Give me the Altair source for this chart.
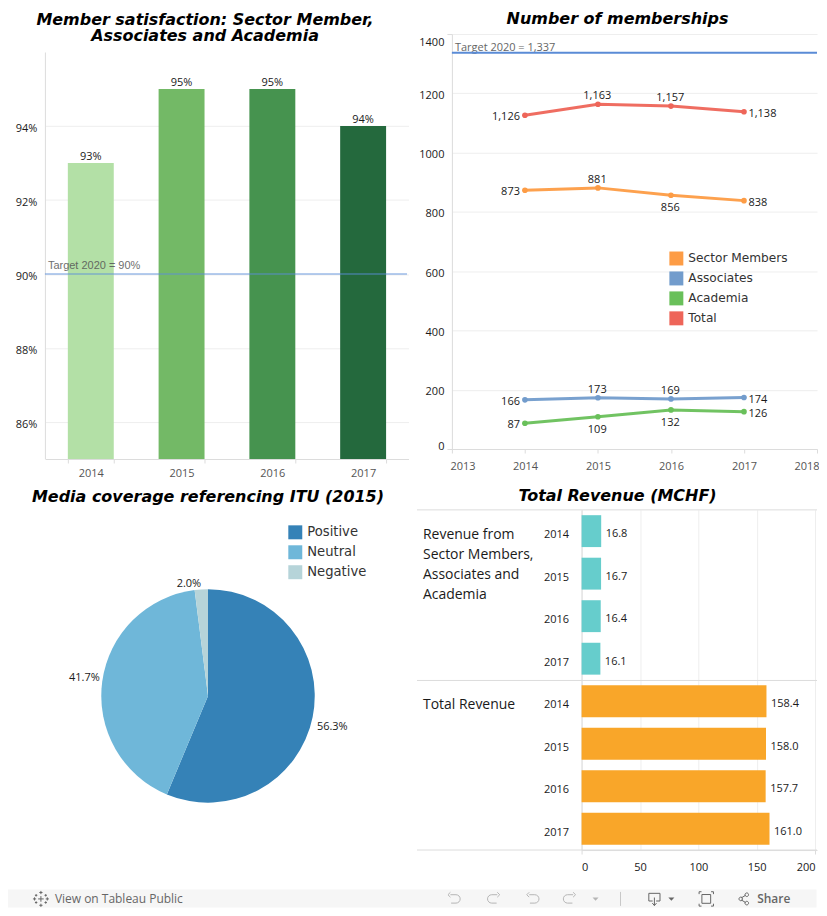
import altair as alt
import pandas as pd

YEARS = [2014, 2015, 2016, 2017]
SAT = [93, 95, 95, 94]
SAT_COLORS = ["#b3e0a6", "#73b966", "#46934f", "#24693d"]
SAT_TARGET = [90]

SECTOR = [873, 881, 856, 838]
ASSOC = [166, 173, 169, 174]
ACAD = [87, 109, 132, 126]
TOTAL = [1126, 1163, 1157, 1138]
MEMBER_NAMES = ["Sector Members", "Associates", "Academia", "Total"]
MEMBER_COLORS = ["#fd9c45", "#729ccc", "#69c05a", "#ee6559"]
MEM_TARGET = [1337]

PIE_NAMES = ["Positive", "Neutral", "Negative"]
PIE_VALUES = [56.3, 41.7, 2.0]
PIE_COLORS = ["#3582b7", "#6fb7d9", "#b6d4d9"]

REV_MEMBERS = [16.8, 16.7, 16.4, 16.1]
REV_TOTAL = [158.4, 158.0, 157.7, 161.0]

F = "Open Sans"
GRID = "#eeeeee"
DOM = "#dcdcdc"
TICKC = "#555555"
INK = "#1a1a1a"


def ttl(text, dx, offset, dy=0):
    return alt.TitleParams(text=text, font="DejaVu Sans", fontSize=16, fontWeight="bold",
                           fontStyle="italic", color="black", lineHeight=16, anchor="middle",
                           dx=dx, dy=dy, offset=offset)


# ---------- A: satisfaction
dfa = pd.DataFrame({"y": [str(v) for v in YEARS], "v": SAT})
dfa["lab"] = dfa.v.astype(str) + "%"
xa = alt.X("y:N", title=None, scale=alt.Scale(range=[0.5, 364.5], paddingInner=0.494, paddingOuter=0.247),
           axis=alt.Axis(labelAngle=0, tickBand="extent", domainColor=DOM, tickColor=DOM, tickSize=4,
                         labelFont=F, labelFontSize=11, labelColor=TICKC, labelPadding=5, grid=False))
ya = alt.Y("v:Q", title=None, scale=alt.Scale(domain=[85, 96], range=[426, 18], nice=False, zero=False, clamp=True),
           axis=alt.Axis(values=[86, 88, 90, 92, 94], labelExpr="datum.value + '%'", ticks=False,
                         domainColor=DOM, gridColor=GRID, labelFont=F, labelFontSize=11, labelColor=INK,
                         labelPadding=8, labelOffset=3))
a_bars = alt.Chart(dfa).mark_bar().encode(
    x=xa, y=ya,
    color=alt.Color("y:N", scale=alt.Scale(domain=[str(v) for v in YEARS], range=SAT_COLORS), legend=None))
a_text = alt.Chart(dfa).mark_text(font=F, fontSize=11, color=INK, dy=-6).encode(x="y:N", y="v:Q", text="lab:N")
dft = pd.DataFrame({"v": SAT_TARGET, "t": ["Target 2020 = 90%"]})
a_rule = alt.Chart(dft).mark_rule(color="#5b8fd9", opacity=0.45, strokeWidth=2).encode(y="v:Q")
a_tt = alt.Chart(dft).mark_text(font="Liberation Sans", fontSize=11, color="#555555", opacity=0.85, align="left",
                                dy=-8).encode(x=alt.value(3), y="v:Q", text="t:N")
A = alt.layer(a_bars, a_rule, a_text, a_tt).properties(
    width=363, height=426,
    title=ttl(["Member satisfaction: Sector Member,", "Associates and Academia"], -21, 0, 10))

# ---------- B: memberships
rows = []
for name, vals in zip(MEMBER_NAMES, [SECTOR, ASSOC, ACAD, TOTAL]):
    for y, v in zip(YEARS, vals):
        rows.append({"year": y, "v": v, "name": name})
dfb = pd.DataFrame(rows)
xb = alt.X("year:Q", title=None, scale=alt.Scale(domain=[2013, 2018], nice=False, zero=False),
           axis=alt.Axis(values=[2013, 2014, 2015, 2016, 2017, 2018], format="d", grid=False, domainColor=DOM,
                         tickColor=DOM, tickSize=4, labelFont=F, labelFontSize=11, labelColor=TICKC,
                         labelFlush=1, labelFlushOffset=2, labelPadding=8))
yb = alt.Y("v:Q", title=None, scale=alt.Scale(domain=[0, 1400], nice=False),
           axis=alt.Axis(values=[0, 200, 400, 600, 800, 1000, 1200, 1400], format="d", domainColor=DOM, gridColor=GRID,
                         tickColor=DOM, tickSize=5,
                         tickOpacity={"condition": {"test": "datum.value==0||datum.value==1400", "value": 1}, "value": 0},
                         labelFont=F, labelFontSize=11, labelColor=INK, labelFlush=1, labelOffset=2,
                         labelPadding=3))
colscale = alt.Scale(domain=MEMBER_NAMES, range=MEMBER_COLORS)
colb = alt.Color("name:N", scale=colscale,
                 legend=alt.Legend(title=None, orient="none", legendX=218, legendY=218, symbolType="square",
                                   symbolSize=196, symbolOpacity=1, symbolStrokeWidth=0, labelFont="DejaVu Sans", labelFontSize=12.2,
                                   labelColor="#333333", rowPadding=6, labelOffset=5, padding=0))
b_line = alt.Chart(dfb).mark_line(strokeWidth=3, opacity=0.95).encode(
    x=xb, y=yb, color=alt.Color("name:N", scale=colscale, legend=None), detail="name:N")
b_pts = alt.Chart(dfb).mark_square(size=1, opacity=1).encode(x="year:Q", y="v:Q", color=colb)
b_circ = alt.Chart(dfb).mark_circle(size=32, opacity=1).encode(
    x="year:Q", y="v:Q", color=alt.Color("name:N", scale=colscale, legend=None))

BELOW = [("Sector Members", 2016), ("Academia", 2015), ("Academia", 2016)]
is_below = [(n, y) in BELOW for n, y in zip(dfb.name, dfb.year)]
d_left = dfb[dfb.year == 2014]
d_right = dfb[dfb.year == 2017]
d_mid = dfb[dfb.year.isin([2015, 2016])]
mid_below = pd.Series(is_below, index=dfb.index)[d_mid.index]


def lbl(d, **kw):
    return alt.Chart(d).mark_text(font=F, fontSize=11, color=INK, **kw).encode(
        x="year:Q", y="v:Q", text=alt.Text("v:Q", format=","))


b_l = lbl(d_left, align="right", dx=-5, dy=2)
b_r = lbl(d_right, align="left", dx=4.5, dy=2.5)
b_a = lbl(d_mid[~mid_below], dx=-0.7, dy=-8)
b_b = lbl(d_mid[mid_below], dx=-0.7, dy=13)
dfbt = pd.DataFrame({"v": MEM_TARGET, "t": ["Target 2020 = 1,337"]})
b_rule = alt.Chart(dfbt).mark_rule(color="#5a8bd6", strokeWidth=2).encode(y="v:Q")
b_tt = alt.Chart(dfbt).mark_text(font=F, fontSize=11, color="#666666", align="left", dy=-5).encode(
    x=alt.value(3), y="v:Q", text="t:N")
B = alt.layer(b_tt, b_rule, b_line, b_pts, b_circ, b_l, b_r, b_a, b_b).resolve_legend(color="independent").properties(
    width=366, height=416, title=ttl("Number of memberships", -17, 7))

# ---------- C: pie (view origin at the left column's origin; also carries the page footer strip)
dfc = pd.DataFrame({"name": PIE_NAMES, "v": PIE_VALUES, "i": [0, 1, 2]})
dfc["mid"] = dfc.v.cumsum() - dfc.v / 2
dfc["lab"] = dfc.v.map(lambda v: f"{v:.1f}%")
thscale = alt.Scale(domain=[0, 100])
c_arc = alt.Chart(dfc).mark_arc(outerRadius=107).encode(
    theta=alt.Theta("v:Q", scale=thscale, stack=True),
    order=alt.Order("i:O"),
    color=alt.Color("name:N", scale=alt.Scale(domain=PIE_NAMES, range=PIE_COLORS),
                    legend=alt.Legend(title=None, orient="none", legendX=244, legendY=15.5, symbolType="square",
                                      symbolSize=196, symbolOpacity=1, symbolStrokeWidth=0, labelFont="DejaVu Sans", labelFontSize=13.2,
                                      labelColor="#333333", rowPadding=6, labelOffset=5, padding=0)))
c_labels = []
for idx, rad, ldx, ldy in [(0, 125, 2, 7), (1, 125, 0, -1), (2, 114, -12, 2)]:
    c_labels.append(alt.Chart(dfc[dfc.i == idx]).mark_text(radius=rad, font=F, fontSize=11, color=INK, dx=ldx, dy=ldy).encode(
        theta=alt.Theta("mid:Q", scale=thscale, stack=None), text="lab:N"))

# footer strip
GRAY = "#b5b5b5"
DARK = "#666666"
rule_df = pd.DataFrame({"r": [0]})
UNDO = "M-0.5,-0.6 L0.3,-0.6 A0.6,0.6 0 0 1 0.3,0.6 L-0.4,0.6 M-0.5,-0.95 L-0.85,-0.6 L-0.5,-0.25"
REDO = "M0.5,-0.6 L-0.3,-0.6 A0.6,0.6 0 0 0 -0.3,0.6 L0.4,0.6 M0.5,-0.95 L0.85,-0.6 L0.5,-0.25"
TRI = "M-1,-0.5 L1,-0.5 L0,0.6 Z"
BOX = "M-0.8,-0.8 L0.8,-0.8 L0.8,0.3 L0.25,0.3 M-0.25,0.3 L-0.8,0.3 L-0.8,-0.8 M0,-0.2 L0,0.95 M-0.3,0.6 L0,0.95 L0.3,0.6"
FULL = "M-0.9,-0.6 L-0.9,-0.9 L-0.6,-0.9 M0.6,-0.9 L0.9,-0.9 L0.9,-0.6 M0.9,0.6 L0.9,0.9 L0.6,0.9 M-0.6,0.9 L-0.9,0.9 L-0.9,0.6 M-0.55,-0.55 L0.55,-0.55 L0.55,0.55 L-0.55,0.55 Z"
SHARE = "M-0.35,-0.15 L0.4,-0.6 M-0.35,0.15 L0.4,0.6 M-0.4,0 m-0.3,0 a0.3,0.3 0 1 0 0.6,0 a0.3,0.3 0 1 0 -0.6,0 M0.6,-0.7 m-0.3,0 a0.3,0.3 0 1 0 0.6,0 a0.3,0.3 0 1 0 -0.6,0 M0.6,0.7 m-0.3,0 a0.3,0.3 0 1 0 0.6,0 a0.3,0.3 0 1 0 -0.6,0"
LOGO = "M0,-1 L0,-0.6 M-0.2,-0.8 L0.2,-0.8 M0,1 L0,0.6 M-0.2,0.8 L0.2,0.8 M-1,0 L-0.6,0 M-0.8,-0.2 L-0.8,0.2 M1,0 L0.6,0 M0.8,-0.2 L0.8,0.2 M0,-0.35 L0,0.35 M-0.35,0 L0.35,0 M-0.6,-0.6 L-0.6,-0.3 M-0.75,-0.45 L-0.45,-0.45 M0.6,-0.6 L0.6,-0.3 M0.75,-0.45 L0.45,-0.45 M-0.6,0.6 L-0.6,0.3 M-0.75,0.45 L-0.45,0.45 M0.6,0.6 L0.6,0.3 M0.75,0.45 L0.45,0.45"
icons = [(LOGO, 41, DARK, 256, False), (UNDO, 455, GRAY, 196, False), (REDO, 495, GRAY, 196, False), (UNDO, 534, GRAY, 196, False),
         (REDO, 571, GRAY, 196, False), (TRI, 597, GRAY, 36, True), (BOX, 656, DARK, 196, False), (TRI, 673, DARK, 36, True),
         (FULL, 708, DARK, 256, False), (SHARE, 745, DARK, 144, False)]
X0, Y0 = 45, 509          # origin of this view on the page
YC = 899
one = pd.DataFrame({"t": ["View on Tableau Public", "Share"]})
s_layers = [alt.Chart(rule_df).mark_rect(color="#f6f6f6").encode(
    x=alt.value(8 - X0), x2=alt.value(818.5 - X0), y=alt.value(889.5 - Y0), y2=alt.value(907.5 - Y0))]
for path, px, col, sz, fill in icons:
    s_layers.append(alt.Chart(rule_df).mark_point(shape=path, size=sz, filled=fill, color=col, strokeWidth=1, opacity=1).encode(
        x=alt.value(px - X0), y=alt.value(YC - Y0)))
s_layers.append(alt.Chart(rule_df).mark_rule(color="#c8c8c8").encode(
    x=alt.value(622 - X0), y=alt.value(892 - Y0), y2=alt.value(906 - Y0)))
s_layers.append(alt.Chart(one[one.t != "Share"]).mark_text(font=F, fontSize=12, color=DARK, align="left").encode(
    x=alt.value(55 - X0), y=alt.value(YC - Y0), text="t:N"))
s_layers.append(alt.Chart(one[one.t == "Share"]).mark_text(font=F, fontSize=12, color=DARK, align="left", fontWeight=600).encode(
    x=alt.value(759 - X0), y=alt.value(YC - Y0), text="t:N"))

C = alt.layer(c_arc, *c_labels, *s_layers).properties(
    width=327, height=373, title=ttl("Media coverage referencing ITU (2015)", 0, 5))

# ---------- D: revenue
dfd = pd.DataFrame({"key": [f"A{y}" for y in YEARS] + [f"B{y}" for y in YEARS],
                    "v": REV_MEMBERS + REV_TOTAL,
                    "g": ["m"] * 4 + ["t"] * 4})
dfd["lab"] = dfd.v.map(lambda v: f"{v:.1f}")
keys = list(dfd.key)
D_LEFT = 130
yd = alt.Y("key:N", title=None, sort=keys,
           scale=alt.Scale(domain=keys, paddingInner=0.25, paddingOuter=0.125),
           axis=alt.Axis(labelExpr="slice(datum.value, 1)", ticks=False, domainColor=DOM, grid=False, offset=-D_LEFT,
                         labelFont=F, labelFontSize=11, labelColor=INK, labelPadding=13, labelOffset=4))
xd = alt.X("v:Q", title=None, scale=alt.Scale(domain=[0, 201.7], range=[D_LEFT, 366], nice=False),
           axis=alt.Axis(values=[0, 50, 100, 150, 200], gridColor=GRID, domainColor=DOM, tickColor=DOM, tickSize=4,
                         tickOpacity={"condition": {"test": "datum.value==0||datum.value==200", "value": 1}, "value": 0},
                         labelFont=F, labelFontSize=11, labelColor=INK, labelFlush=4, labelPadding=8))
d_bars = alt.Chart(dfd).mark_bar().encode(
    x=xd, y=yd,
    color=alt.Color("g:N", scale=alt.Scale(domain=["m", "t"], range=["#66cdcc", "#f9a629"]), legend=None))
d_text = alt.Chart(dfd).mark_text(font=F, fontSize=11, color=INK, align="left", dx=4.5, dy=3).encode(
    x="v:Q", y="key:N", text="lab:N")
dfh = pd.DataFrame({"key": ["A2014", "B2014"],
                    "h": ["Revenue from\nSector Members,\nAssociates and\nAcademia", "Total Revenue"]})
d_head = alt.Chart(dfh).mark_text(font=F, fontSize=14, color=INK, align="left", baseline="top",
                                  lineBreak="\n", lineHeight=20, dy=-3).encode(
    x=alt.value(-29), y="key:N", text="h:N")
d_rules = [alt.Chart(rule_df).mark_rule(color="#dcdcdc", strokeWidth=1).encode(
    x=alt.value(-35), x2=alt.value(366), y=alt.value(p)) for p in (0, 171, 341)]
D = alt.layer(d_bars, d_text, d_head, *d_rules).properties(
    width=366, height=341, title=ttl("Total Revenue (MCHF)", -17, 5))

chart = alt.concat(A, B, C, D, columns=2, spacing={"column": 45, "row": 51}, bounds="flush").resolve_scale(color="independent").properties(
    padding={"left": 0, "right": 0, "top": 1, "bottom": 0}, background="white"
).configure_view(stroke=None)

chart.save("out.html", embed_options={"renderer": "svg", "actions": False})
